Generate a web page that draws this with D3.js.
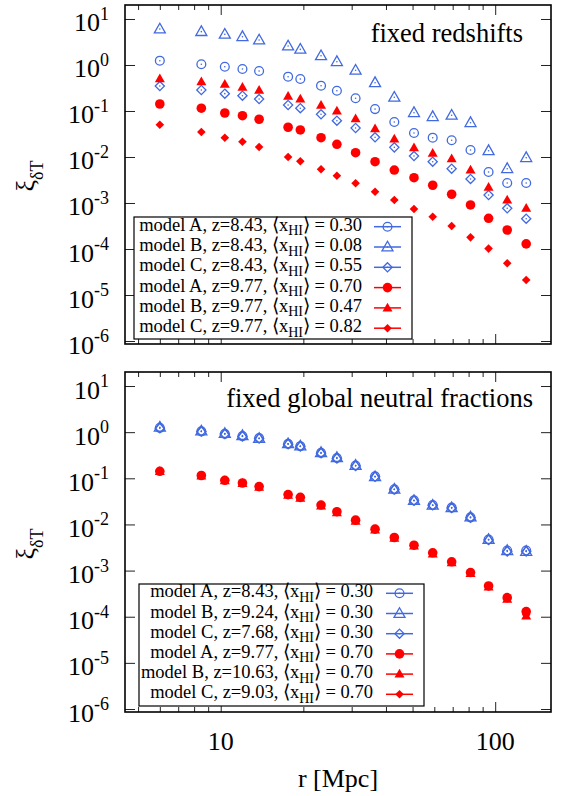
<!DOCTYPE html>
<html><head><meta charset="utf-8">
<script src="https://cdn.jsdelivr.net/npm/d3@7"></script>
<style>
body{margin:0;background:#fff}
svg{display:block}
text{font-family:"Liberation Serif","Times New Roman",serif;fill:#000}
</style>
</head><body>
<svg id="c" width="562" height="796"></svg>
<script>
// ---------- data ----------
const r = [6.0, 8.5, 10.35, 12.0, 13.8, 17.6, 19.5, 23.2, 26.5, 31.0, 36.5, 42.9, 50.6, 59.2, 69.4, 81.3, 94.6, 110.6, 129.7];

// top panel: fixed redshifts
const topA1 = [1.24, 1.04, 0.918, 0.819, 0.741, 0.557, 0.497, 0.355, 0.276, 0.189, 0.110, 0.0576, 0.0332, 0.0263, 0.0231, 0.0142, 0.00472, 0.00272, 0.00272];
const topB1 = [6.06, 5.3, 4.64, 4.12, 3.49, 2.59, 2.19, 1.59, 1.18, 0.767, 0.412, 0.199, 0.0919, 0.0752, 0.0807, 0.0557, 0.0137, 0.00557, 0.00966];
const topC1 = [0.349, 0.286, 0.238, 0.215, 0.182, 0.135, 0.115, 0.0848, 0.0615, 0.0427, 0.0268, 0.0162, 0.0105, 0.0079, 0.00557, 0.00333, 0.00149, 0.000767, 0.000456];
const topA2 = [0.142, 0.115, 0.0905, 0.0791, 0.0661, 0.0443, 0.0387, 0.0263, 0.0189, 0.0124, 0.0079, 0.00521, 0.00355, 0.00243, 0.00155, 0.000906, 0.000465, 0.000259, 0.000129];
const topB2 = [0.504, 0.433, 0.380, 0.327, 0.282, 0.209, 0.182, 0.133, 0.100, 0.068, 0.0412, 0.0246, 0.0159, 0.0120, 0.00918, 0.00521, 0.00219, 0.00116, 0.000767];
const topC2 = [0.0504, 0.0349, 0.0263, 0.0215, 0.0165, 0.0100, 0.00807, 0.0054, 0.00392, 0.00268, 0.00176, 0.00116, 0.000741, 0.000504, 0.000316, 0.000179, 0.000102, 0.0000489, 0.0000212];

// bottom panel: fixed global neutral fractions
const botA1 = [1.24, 1.04, 0.918, 0.819, 0.741, 0.557, 0.497, 0.355, 0.276, 0.189, 0.110, 0.0576, 0.0332, 0.0263, 0.0231, 0.0142, 0.00472, 0.00272, 0.00272];
const botB1 = [1.28, 1.06, 0.93, 0.84, 0.73, 0.56, 0.50, 0.36, 0.28, 0.19, 0.108, 0.058, 0.033, 0.026, 0.023, 0.0145, 0.0047, 0.0027, 0.0026];
const botC1 = [1.22, 1.03, 0.91, 0.81, 0.73, 0.55, 0.49, 0.35, 0.27, 0.185, 0.108, 0.057, 0.0328, 0.026, 0.0228, 0.014, 0.0046, 0.0026, 0.0026];
const botA2 = [0.142, 0.115, 0.0905, 0.0791, 0.0661, 0.0443, 0.0387, 0.0263, 0.0189, 0.0124, 0.0079, 0.00521, 0.00355, 0.00243, 0.00155, 0.000906, 0.000465, 0.000259, 0.000129];
const botB2 = [0.14, 0.112, 0.089, 0.077, 0.064, 0.043, 0.037, 0.025, 0.018, 0.0118, 0.0076, 0.0050, 0.0034, 0.0023, 0.00148, 0.00086, 0.00044, 0.00024, 0.000104];
const botC2 = [0.145, 0.116, 0.092, 0.080, 0.067, 0.045, 0.039, 0.0265, 0.019, 0.0125, 0.0080, 0.0052, 0.0035, 0.0024, 0.00153, 0.00090, 0.00046, 0.000255, 0.00011];

const topLabels = [["A","8.43","0.30"],["B","8.43","0.08"],["C","8.43","0.55"],["A","9.77","0.70"],["B","9.77","0.47"],["C","9.77","0.82"]];
const botLabels = [["A","8.43","0.30"],["B","9.24","0.30"],["C","7.68","0.30"],["A","9.77","0.70"],["B","10.63","0.70"],["C","9.03","0.70"]];

const yTickExps = [1, 0, -1, -2, -3, -4, -5, -6];
const xMajor = [10, 100];
const xMinor = [5, 6, 7, 8, 9, 20, 30, 40, 50, 60, 70, 80, 90];
const xTickLabels = ["10", "100"];

// ---------- styles ----------
const BLUE = "#4169E1", RED = "#FF0000";
const styles = [
  {shape:"circle", fill:false, color:BLUE},
  {shape:"triangle", fill:false, color:BLUE},
  {shape:"diamond", fill:false, color:BLUE},
  {shape:"circle", fill:true, color:RED},
  {shape:"triangle", fill:true, color:RED},
  {shape:"diamond", fill:true, color:RED}
];

const svg = d3.select("#c");
const X0 = 125, X1 = 551;
const x = d3.scaleLog().domain([4.48, 159.7]).range([X0, X1]);
const yDom = [Math.pow(10, -6.065), Math.pow(10, 1.304)];

const panels = [
  {top:5, bottom:344, title:"fixed redshifts", titleX:523, titleY:42,
   series:[topA1, topB1, topC1, topA2, topB2, topC2], labels:topLabels,
   leg:{x0:134, y0:217, x1:412, y1:339, textX:362, l0:374, l1:401, row0:226.7, step:20.3},
   ylabY:176},
  {top:372, bottom:712, title:"fixed global neutral fractions", titleX:533, titleY:407,
   series:[botA1, botB1, botC1, botA2, botB2, botC2], labels:botLabels,
   leg:{x0:139, y0:584, x1:424, y1:706, textX:373, l0:386, l1:413, row0:593.3, step:20.2},
   ylabY:544}
];

function marker(g, st, cx, cy) {
  const c = st.color;
  if (st.shape === "circle") {
    if (st.fill) g.append("circle").attr("cx", cx).attr("cy", cy).attr("r", 4.8).attr("fill", c);
    else g.append("circle").attr("cx", cx).attr("cy", cy).attr("r", 4.4).attr("fill", "none").attr("stroke", c).attr("stroke-width", 1.3);
  } else if (st.shape === "triangle") {
    const s = st.fill ? 5.0 : 5.5;
    const p = `M${cx},${cy - s * 1.05} L${cx + s},${cy + s * 0.7} L${cx - s},${cy + s * 0.7} Z`;
    if (st.fill) g.append("path").attr("d", p).attr("fill", c);
    else g.append("path").attr("d", p).attr("fill", "none").attr("stroke", c).attr("stroke-width", 1.3);
  } else {
    const s = st.fill ? 4.3 : 4.6;
    const p = `M${cx},${cy - s} L${cx + s},${cy} L${cx},${cy + s} L${cx - s},${cy} Z`;
    if (st.fill) g.append("path").attr("d", p).attr("fill", c);
    else g.append("path").attr("d", p).attr("fill", "none").attr("stroke", c).attr("stroke-width", 1.3);
  }
  if (!st.fill) g.append("circle").attr("cx", cx).attr("cy", cy).attr("r", 0.8).attr("fill", c);
}

panels.forEach(P => {
  const y = d3.scaleLog().domain(yDom).range([P.bottom, P.top]);
  const g = svg.append("g");

  // ticks via axes
  const tickStyle = sel => { sel.select(".domain").remove(); sel.selectAll("line").attr("stroke", "#222").attr("stroke-width", 1); sel.selectAll("text").remove(); };
  g.append("g").attr("transform", `translate(0,${P.bottom})`)
    .call(d3.axisBottom(x).tickValues(xMajor).tickSizeInner(-10).tickSizeOuter(0)).call(tickStyle);
  g.append("g").attr("transform", `translate(0,${P.bottom})`)
    .call(d3.axisBottom(x).tickValues(xMinor).tickSizeInner(-5).tickSizeOuter(0)).call(tickStyle);
  g.append("g").attr("transform", `translate(0,${P.top})`)
    .call(d3.axisTop(x).tickValues(xMajor).tickSizeInner(-10).tickSizeOuter(0)).call(tickStyle);
  g.append("g").attr("transform", `translate(0,${P.top})`)
    .call(d3.axisTop(x).tickValues(xMinor).tickSizeInner(-5).tickSizeOuter(0)).call(tickStyle);
  const yt = yTickExps.map(e => Math.pow(10, e));
  g.append("g").attr("transform", `translate(${X0},0)`)
    .call(d3.axisLeft(y).tickValues(yt).tickSizeInner(-10).tickSizeOuter(0)).call(tickStyle);
  g.append("g").attr("transform", `translate(${X1},0)`)
    .call(d3.axisRight(y).tickValues(yt).tickSizeInner(-10).tickSizeOuter(0)).call(tickStyle);

  // y tick labels
  yTickExps.forEach(e => {
    const t = g.append("text").attr("x", 109).attr("y", y(Math.pow(10, e)) + 12.5)
      .attr("text-anchor", "end").attr("font-size", 26);
    t.append("tspan").text("10");
    t.append("tspan").attr("font-size", 18).attr("dy", -11.5).text(String(e));
  });

  // data
  P.series.forEach((s, i) => {
    const sg = g.append("g");
    s.forEach((v, j) => marker(sg, styles[i], x(r[j]), y(v)));
  });

  // title
  g.append("text").attr("x", P.titleX).attr("y", P.titleY).attr("text-anchor", "end")
    .attr("font-size", 26.5).text(P.title);

  // legend
  const L = P.leg;
  g.append("rect").attr("x", L.x0).attr("y", L.y0).attr("width", L.x1 - L.x0).attr("height", L.y1 - L.y0)
    .attr("fill", "#fff").attr("stroke", "#000").attr("stroke-width", 1.2);
  P.labels.forEach((lab, i) => {
    const cy = L.row0 + i * L.step;
    const t = g.append("text").attr("x", L.textX).attr("y", cy + 4).attr("text-anchor", "end").attr("font-size", 18.5);
    t.append("tspan").text(`model ${lab[0]}, z=${lab[1]}, \u27E8x`);
    t.append("tspan").attr("font-size", 14).attr("dy", 4.5).text("HI");
    t.append("tspan").attr("dy", -4.5).text(`\u27E9 = ${lab[2]}`);
    g.append("line").attr("x1", L.l0).attr("x2", L.l1).attr("y1", cy).attr("y2", cy)
      .attr("stroke", styles[i].color).attr("stroke-width", 1.5);
    marker(g, styles[i], (L.l0 + L.l1) / 2, cy);
  });

  // frame
  g.append("rect").attr("x", X0).attr("y", P.top).attr("width", X1 - X0).attr("height", P.bottom - P.top)
    .attr("fill", "none").attr("stroke", "#000").attr("stroke-width", 1.6);

  // y label
  const yl = g.append("text").attr("transform", `translate(34,${P.ylabY}) rotate(-90)`)
    .attr("text-anchor", "middle").attr("font-size", 26);
  yl.append("tspan").text("\u03BE");
  yl.append("tspan").attr("font-size", 18).attr("dy", 9).text("\u03B4T");
});

// x tick labels (bottom panel only)
const bottomP = panels[1];
xMajor.forEach((v, i) => {
  svg.append("text").attr("x", x(v)).attr("y", 749.5).attr("text-anchor", "middle")
    .attr("font-size", 26).text(xTickLabels[i]);
});
svg.append("text").attr("x", (X0 + X1) / 2).attr("y", 787).attr("text-anchor", "middle")
  .attr("font-size", 26).text("r [Mpc]");
</script>
</body></html>
